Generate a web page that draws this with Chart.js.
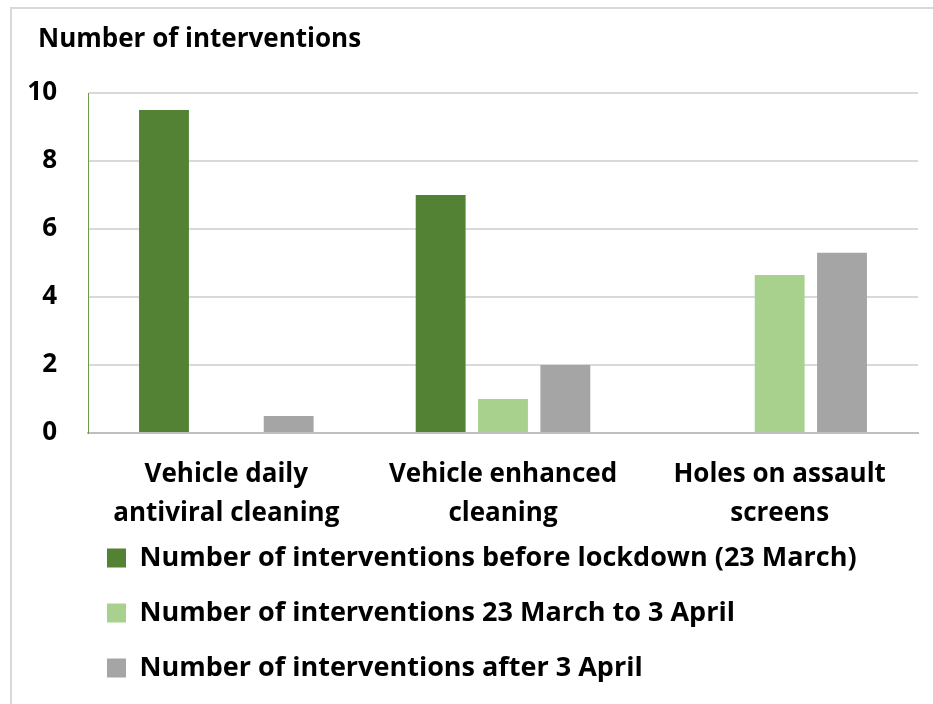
<!DOCTYPE html>
<html>
<head>
<meta charset="utf-8">
<script src="https://cdn.jsdelivr.net/npm/chart.js@4"></script>
<style>
html,body{margin:0;padding:0;background:#fff;overflow:hidden}
.frame{position:absolute;left:10px;top:7px;width:940px;height:720px;border-top:2px solid #d9d9d9;border-left:2px solid #d9d9d9}
.wrap{position:absolute;left:0;top:0;width:933px;height:704px}
</style>
</head>
<body>
<div class="frame"></div>
<div class="wrap"><canvas id="chart"></canvas></div>
<script>
/* interventions bar chart */
const categories=[['Vehicle daily','antiviral cleaning'],['Vehicle enhanced','cleaning'],['Holes on assault','screens']];
const seriesNames=['Number of interventions before lockdown (23 March)','Number of interventions 23 March to 3 April','Number of interventions after 3 April'];
const beforeLockdown=[9.5,7,0];
const marchToApril=[0,1,4.65];
const afterApril=[0.5,2,5.3];
const yTicks=[0,2,4,6,8,10];
const colors=['#548235','#a9d18e','#a5a5a5'];

const FONT='"Open Sans"';
const bold=(s,lh)=>({family:FONT,size:s,weight:'bold',lineHeight:lh||1.2});

// nudge title/legend so they sit where the original has them
const nudge={id:'nudge',afterLayout(c){
  const t=c.titleBlock,l=c.legend;
  if(t){t.left+=18;t.right+=18;}
  if(l){l.left-=9;l.right-=9;l.top-=12.5;l.bottom-=12.5;}
}};

const ctx=document.getElementById('chart');
new Chart(ctx,{
  type:'bar',
  data:{labels:categories,datasets:[beforeLockdown,marchToApril,afterApril].map((d,i)=>({
    label:seriesNames[i],data:d,backgroundColor:colors[i],borderWidth:0,
    categoryPercentage:0.676,barPercentage:0.8
  }))},
  options:{
    responsive:true,maintainAspectRatio:false,animation:false,
    layout:{padding:{left:20,top:9,right:15,bottom:0}},
    plugins:{
      title:{display:true,text:'Number of interventions',align:'start',color:'#000',font:bold(26),padding:{top:15.4,bottom:37.4}},
      legend:{position:'bottom',align:'start',fullSize:false,
        labels:{color:'#000',font:bold(27),boxWidth:19,boxHeight:19,padding:28}},
      tooltip:{enabled:false}
    },
    scales:{
      x:{
        grid:{display:false,drawTicks:false},
        border:{color:'#bfbfbf',width:2},
        ticks:{color:'#000',font:bold(26,'39px'),padding:22,maxRotation:0,autoSkip:false},
        afterFit:s=>{s.height=96;}
      },
      y:{
        min:0,max:10,
        afterBuildTicks:s=>{s.ticks=yTicks.map(v=>({value:v}));},
        grid:{color:'#d9d9d9',lineWidth:2,drawTicks:false},
        border:{color:'#6a9a4a',width:1},
        ticks:{color:'#000',font:bold(26,1.5),padding:31},
        afterFit:s=>{s.width=68;}
      }
    }
  },
  plugins:[nudge]
});
</script>
</body>
</html>
